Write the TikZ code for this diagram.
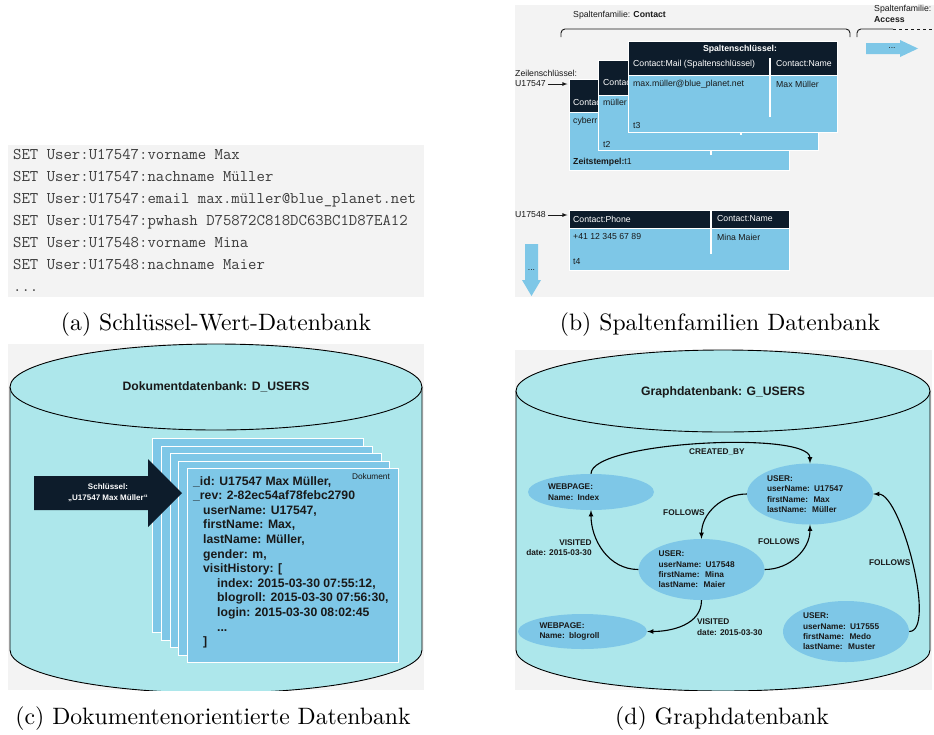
\documentclass[tikz,border=0pt]{standalone}
\usepackage{fontspec}
\setsansfont{Liberation Sans}
\newfontfamily\capfont{lmroman10-regular}[Extension=.otf]
\usetikzlibrary{positioning,shapes.geometric}
\definecolor{panelgray}{RGB}{243,243,243}
\definecolor{dbcyan}{RGB}{173,231,235}
\definecolor{cellblue}{RGB}{126,199,231}
\definecolor{navyhead}{RGB}{13,28,43}
\definecolor{inkgray}{RGB}{60,60,60}
\definecolor{inkdark}{RGB}{25,25,25}

\begin{document}
\begin{tikzpicture}[x=1pt, y=-1pt,
    panel/.style={fill=panelgray},
    caption/.style={font=\capfont\fontsize{23.7}{28}\selectfont, inner sep=0pt},
    kvtext/.style={font=\ttfamily\fontsize{16.3}{22}\selectfont, text=inkgray, align=left, anchor=north west, inner sep=0pt},
    small/.style={font=\sffamily\fontsize{8.7}{11}\selectfont, text=inkdark, inner sep=0pt, anchor=west},
    headtext/.style={small, text=white},
    cellbox/.style={fill=cellblue, draw=white, line width=1pt, anchor=north west, inner sep=0pt},
    headbox/.style={fill=navyhead, draw=white, line width=1pt, anchor=north west, inner sep=0pt},
    divider/.style={draw=white, line width=1.2pt},
    keyarrow/.style={-latex, line width=0.8pt, draw=inkdark},
    blockarrow/.style={fill=cellblue},
    dbshape/.style={fill=dbcyan, draw=black, line width=0.9pt},
    dbtitle/.style={font=\sffamily\bfseries\fontsize{12.2}{14}\selectfont, text=inkdark},
    doccard/.style={fill=cellblue, draw=white, line width=1.2pt, anchor=north west, minimum width=211, minimum height=194, inner sep=0pt},
    doctext/.style={font=\sffamily\bfseries\fontsize{12.2}{14.6}\selectfont, text=inkdark, align=left, anchor=north west, inner sep=0pt},
    keytext/.style={font=\sffamily\bfseries\fontsize{8}{10.6}\selectfont, text=white, align=center},
    gnode/.style={ellipse, fill=cellblue, text width=86, align=left, inner sep=0pt, minimum width=126, minimum height=61,
                  font=\sffamily\bfseries\fontsize{8.3}{10.3}\selectfont, text=inkdark},
    glabel/.style={font=\sffamily\bfseries\fontsize{8.3}{10.3}\selectfont, text=inkdark, inner sep=1pt},
    link/.style={-latex, line width=1.1pt, draw=black}]

    \useasboundingbox (0,0) rectangle (934,734);

    % (a) Schluessel-Wert
    \fill[panel] (8,145) rectangle (424,297);
    \node[kvtext] (kv) at (13,149.5) {SET User:U17547:vorname Max\\
        SET User:U17547:nachname Müller\\
        SET User:U17547:email max.müller@blue\_planet.net\\
        SET User:U17547:pwhash D75872C818DC63BC1D87EA12\\
        SET User:U17548:vorname Mina\\
        SET User:U17548:nachname Maier\\
        ...};
    \node[caption] (capa) at (216,325) {(a) Schlüssel-Wert-Datenbank};

    % (b) Spaltenfamilien
    \fill[panel] (515,5) rectangle (934,297);
    \node[small] (famc) at (573,15) {Spaltenfamilie: \textbf{Contact}};
    \node[small, anchor=north west, align=left] (fama) at (874,5) {Spaltenfamilie:\\\textbf{Access}};
    \draw[inkdark, line width=0.9pt, rounded corners=4pt] (561,37) -- (561,29) -- (850,29) -- (850,37);
    \draw[inkdark, line width=0.9pt, rounded corners=4pt] (857,37) -- (857,29) -- (893,29);
    \draw[inkdark, line width=0.9pt, dashed] (893,29) -- (934,29);
    \fill[blockarrow] (866,43) -- (900,43) -- (900,40) -- (918,48.5) -- (900,57) -- (900,54) -- (866,54) -- cycle;
    \node[small, anchor=center] (moreright) at (892,48) {...};

    \node[cellbox, minimum width=220, minimum height=91] (card1) at (569,79) {};
    \node[headbox, minimum width=220, minimum height=33] (head1) at (569,79) {};
    \draw[divider] (711,96) -- (711,155);
    \node[headtext] (h1) at (573,103) {Contact};
    \node[small] (v1) at (573,121) {cyberr};
    \node[small] (t1) at (573,162) {\textbf{Zeitstempel:}t1};

    \node[cellbox, minimum width=220, minimum height=90] (card2) at (598,60) {};
    \node[headbox, minimum width=220, minimum height=35] (head2) at (598,60) {};
    \draw[divider] (741,77) -- (741,135);
    \node[headtext] (h2) at (603,83) {Contact};
    \node[small] (v2) at (603,102) {müller};
    \node[small] (t2) at (603,144) {t2};

    \node[cellbox, minimum width=209, minimum height=91] (card3) at (628,41) {};
    \node[headbox, minimum width=209, minimum height=34] (head3) at (628,41) {};
    \draw[divider] (770,58) -- (770,117);
    \node[headtext, anchor=center] (title3) at (740,49) {\textbf{Spaltenschlüssel:}};
    \node[headtext] (h3a) at (633,64) {Contact:Mail (Spaltenschlüssel)};
    \node[headtext] (h3b) at (776,64) {Contact:Name};
    \node[small] (v3a) at (633,84) {max.müller@blue\_planet.net};
    \node[small] (v3b) at (776,84) {Max Müller};
    \node[small] (t3) at (633,126) {t3};

    \node[small, anchor=west] (zlabel) at (515,73) {Zeilenschlüssel:};
    \node[small] (rk1) at (515,84) {U17547};
    \draw[keyarrow, shorten <=2pt, shorten >=1.5pt] (rk1) -- (rk1 -| card1.west);

    \node[cellbox, minimum width=220, minimum height=60] (card4) at (569,210) {};
    \node[headbox, minimum width=220, minimum height=18] (head4) at (569,210) {};
    \draw[divider] (711,210) -- (711,254);
    \node[headtext] (h4a) at (573,219) {Contact:Phone};
    \node[headtext] (h4b) at (717,219) {Contact:Name};
    \node[small] (v4a) at (573,237) {+41 12 345 67 89};
    \node[small] (v4b) at (717,237) {Mina Maier};
    \node[small] (t4) at (573,262) {t4};
    \node[small] (rk2) at (515,215) {U17548};
    \draw[keyarrow, shorten <=2pt, shorten >=1.5pt] (rk2) -- (rk2 -| card4.west);

    \fill[blockarrow] (525,244) -- (538,244) -- (538,280) -- (541,280) -- (531.5,296) -- (522,280) -- (525,280) -- cycle;
    \node[small, anchor=center] (moredown) at (531.5,270) {...};
    \node[caption] (capb) at (720,325) {(b) Spaltenfamilien Datenbank};

    % (c) Dokumente
    \fill[panel] (8,344) rectangle (424,690);
    \begin{scope}
        \clip (8,344) rectangle (424,690);
        \filldraw[dbshape] (10,387) -- (10,650) arc[start angle=180, end angle=0, x radius=206, y radius=43] -- (422,387);
    \end{scope}
    \filldraw[dbshape] (216,387) ellipse[x radius=206, y radius=43];
    \node[dbtitle] (dtitle) at (216,387) {Dokumentdatenbank: D\_USERS};

    \node[doccard] (docA) at (152,438) {};
    \node[doccard] (docB) at (160.75,445.5) {};
    \node[doccard] (docC) at (169.5,453) {};
    \node[doccard] (docD) at (178.25,460.5) {};
    \node[doccard] (docE) at (187,468) {};
    \node[font=\sffamily\fontsize{8.3}{10}\selectfont, text=inkdark, inner sep=0pt] (doclabel) at (371,477) {Dokument};
    \node[doctext] (doc) at (193,476) {\_id: U17547 Max Müller,\\
        \_rev: 2-82ec54af78febc2790\\
        \hspace*{10pt}userName: U17547,\\
        \hspace*{10pt}firstName: Max,\\
        \hspace*{10pt}lastName: Müller,\\
        \hspace*{10pt}gender: m,\\
        \hspace*{10pt}visitHistory: [\\
        \hspace*{24pt}index: 2015-03-30 07:55:12,\\
        \hspace*{24pt}blogroll: 2015-03-30 07:56:30,\\
        \hspace*{24pt}login: 2015-03-30 08:02:45\\
        \hspace*{24pt}...\\
        \hspace*{10pt}]};

    \fill[navyhead] (34,476) -- (148,476) -- (148,459) -- (182,493) -- (148,527) -- (148,510) -- (34,510) -- cycle;
    \node[keytext] (key) at (108,493) {Schlüssel:\\„U17547 Max Müller“};
    \node[caption] (capc) at (213,719) {(c) Dokumentenorientierte Datenbank};

    % (d) Graph
    \fill[panel] (515,350) rectangle (932,690);
    \begin{scope}
        \clip (515,350) rectangle (932,690);
        \filldraw[dbshape] (516,391) -- (516,650) arc[start angle=180, end angle=0, x radius=207, y radius=41] -- (930,391);
    \end{scope}
    \filldraw[dbshape] (723,391) ellipse[x radius=207, y radius=41];
    \node[dbtitle] (gtitle) at (723,392) {Graphdatenbank: G\_USERS};

    \node[gnode, minimum height=36] (idx) at (591,492) {WEBPAGE:\\Name: Index};
    \node[gnode] (u47) at (810,494) {USER:\\userName: U17547\\firstName:\ \ Max\\lastName:\ \ Müller};
    \node[gnode] (u48) at (701.5,569.5) {USER:\\userName: U17548\\firstName:\ \ Mina\\lastName:\ \ Maier};
    \node[gnode, minimum width=129, minimum height=35] (blog) at (582.5,631.5) {WEBPAGE:\\Name: blogroll};
    \node[gnode] (u55) at (846,631.5) {USER:\\userName: U17555\\firstName:\ \ Medo\\lastName:\ \ Muster};

    \path (idx.north) edge[link, out=90, in=90, looseness=0.38] node[glabel, pos=0.55, below=4pt] {CREATED\_BY} (u47.north);
    \path (u47.west) edge[link, out=180, in=90] node[glabel, pos=0.6, left=4pt] {FOLLOWS} (u48.north);
    \path (u48.east) edge[link, out=0, in=-90] node[glabel, pos=0.6, above left=5pt and 0pt] {FOLLOWS} (u47.south);
    \path (u48.west) edge[link, out=180, in=-90] node[glabel, pos=0.55, left=8pt, align=right] {VISITED\\date: 2015-03-30} (idx.south);
    \path (u48.south) edge[link, out=-90, in=0] node[glabel, pos=0.5, right=12pt, yshift=-2pt, align=left] {VISITED\\date: 2015-03-30} (blog.east);
    \path (u55.east) edge[link, out=0, in=0, looseness=0.5] node[glabel, pos=0.5, left] {FOLLOWS} (u47.east);
    \node[caption] (capd) at (722,719) {(d) Graphdatenbank};
\end{tikzpicture}
\end{document}
